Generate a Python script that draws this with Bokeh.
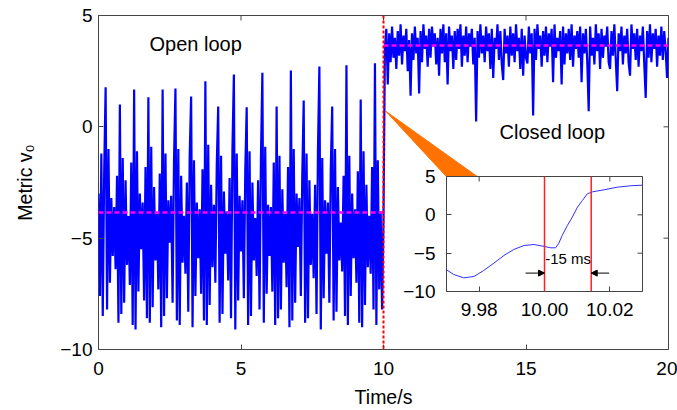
import numpy as np
from bokeh.plotting import figure
from bokeh.models import (ColumnDataSource, FixedTicker, Span, Arrow,
                          NormalHead, NumeralTickFormatter, Range1d)
from bokeh.layouts import column
from bokeh.embed import file_html
from bokeh.resources import INLINE
from bokeh.core.properties import value

# ---------------- data ----------------
sample_step = 0.05
switch_time = 10.0

open_loop = [
    -3.0, -7.6, -1.2, -8.5, -2.0, 1.78, -8.2, -1.0, -7.0, -3.2,
    -5.8, -3.6, -6.4, -2.2, -8.8, 1.00, -8.4, -1.4, -7.9, -2.4,
    -6.2, -4.0, -7.1, -1.6, -8.9, 1.68, -9.1, -1.1, -7.4, -3.0,
    -5.5, -3.4, -7.8, -1.8, -8.6, 1.33, -8.8, -0.9, -8.1, -2.7,
    -6.0, -3.9, -7.3, -2.1, -9.0, 1.68, -8.5, -1.2, -7.7, -3.3,
    -5.2, -3.1, -7.9, -1.5, 1.72, -8.7, -1.0, -8.9, -2.2, -6.1,
    -4.0, -6.6, -2.5, -8.3, -1.3, 1.36, -9.0, -1.5, -7.6, -3.4,
    -5.9, -3.7, -7.5, -1.9, -8.7, 2.05, -8.9, -0.8, -8.0, -2.6,
    -6.3, -3.5, -7.0, -1.7, 0.91, -8.8, -1.3, -8.4, -2.9, -5.7,
    -3.8, -6.9, -2.3, -8.6, -1.0, 2.35, -9.1, -1.2, -7.8, -3.1,
    -5.6, -3.3, -7.7, -2.0, 0.88, -8.9, -1.1, -8.5, -2.5, -6.0,
    -4.1, -6.7, -2.4, -8.2, -1.4, 2.43, -8.8, -0.9, -7.5, -3.5,
    -5.8, -3.6, -7.4, -1.6, -8.9, 0.91, -8.6, -1.3, -8.2, -2.8,
    -6.1, -3.9, -7.2, -1.8, -9.0, 2.53, -8.7, -1.0, -7.9, -3.0,
    -5.4, -3.2, -7.6, -2.2, 1.18, -8.8, -1.2, -8.6, -2.4, -6.2,
    -3.9, -6.8, -2.6, -8.4, -1.1, 2.71, -9.1, -1.4, -7.7, -3.3,
    -5.7, -3.4, -7.9, -1.9, 0.91, -8.7, -1.0, -8.3, -2.7, -6.0,
    -4.3, -6.5, -2.2, -8.5, 2.77, -8.9, -1.3, -7.6, -3.0, -5.9,
    -3.7, -7.0, -2.0, -8.8, 1.23, -9.0, -1.1, -8.0, -2.6, -6.3,
    -4.0, -6.6, -1.8, -8.2, 2.86, -8.9, -1.5, -7.3, -3.8, -8.2,
]

closed_loop = [
    -4.1, 3.6, 4.4, 1.9, 4.2, 2.9, 4.5, 3.1, 4.0, 2.6,
    4.3, 3.2, 4.6, 2.8, 4.1, 3.4, 4.4, 2.5, 3.9, 1.4,
    4.2, 3.0, 4.5, 3.3, 4.0, 1.5, 4.3, 2.9, 4.6, 3.5,
    4.1, 2.7, 4.4, 3.1, 4.5, 3.6, 4.2, 2.8, 4.0, 2.3,
    4.4, 3.3, 4.6, 2.9, 4.2, 1.9, 4.5, 3.4, 4.1, 2.6,
    4.3, 3.0, 4.4, 3.5, 4.6, 2.7, 4.1, 3.2, 4.5, 2.9,
    4.2, 3.6, 4.4, 2.8, 4.0, 0.24, 4.3, 3.1, 4.6, 3.3,
    4.1, 2.9, 4.5, 3.4, 4.2, 2.6, 4.4, 2.2, 4.0, 3.5,
    4.6, 3.0, 4.3, 2.8, 2.1, 4.4, 3.3, 4.1, 2.7, 4.5,
    3.2, 4.2, 2.9, 4.6, 3.4, 4.0, 2.6, 4.4, 2.3, 4.1,
    3.1, 2.85, 4.5, 3.3, 4.2, 0.51, 4.4, 3.0, 4.6, 3.5,
    4.1, 2.7, 4.3, 3.2, 4.5, 2.9, 4.2, 3.6, 4.4, 2.0,
    4.6, 3.1, 4.0, 3.4, 4.3, 1.9, 4.5, 2.8, 4.2, 3.3,
    4.4, 3.0, 4.6, 2.7, 4.1, 3.5, 4.3, 3.1, 4.5, 2.0,
    4.2, 3.3, 4.4, 2.9, 0.7, 4.5, 3.2, 4.0, 2.8, 4.6,
    3.4, 4.2, 2.6, 4.4, 3.1, 4.1, 3.6, 4.5, 2.9, 2.6,
    4.3, 3.2, 4.6, 3.0, 1.6, 4.2, 3.4, 4.5, 2.8, 4.1,
    3.3, 4.4, 2.9, 2.3, 4.6, 3.5, 4.2, 3.0, 4.4, 2.7,
    4.1, 3.4, 4.5, 2.8, 1.3, 4.3, 3.1, 4.6, 2.9, 4.2,
    3.5, 4.4, 2.7, 4.1, 3.2, 4.5, 3.0, 4.3, 3.4, 2.2,
    4.0,
]

mean_start = [0.0, 10.0]
mean_end = [10.0, 20.0]
mean_value = [-3.85, 3.65]

x_ticks = [0, 5, 10, 15, 20]
y_ticks = [-10, -5, 0, 5]

inset_time = [9.9700, 9.9722, 9.9753, 9.9784, 9.9814, 9.9845, 9.9876, 9.9906,
              9.9937, 9.9968, 10.0000, 10.0019, 10.0034, 10.0044, 10.0054,
              10.0070, 10.0085, 10.0101, 10.0116, 10.0131, 10.0147, 10.0183,
              10.0223, 10.0264, 10.0300]
inset_value = [-7.17, -7.78, -8.22, -8.04, -7.26, -6.30, -5.30, -4.52,
               -4.00, -3.87, -4.13, -4.30, -4.30, -3.70, -2.70,
               -1.39, -0.30, 1.00, 1.87, 2.74, 3.00, 3.27,
               3.61, 3.79, 3.87]
inset_x_ticks = [9.98, 10.00, 10.02]
inset_y_ticks = [-10, -5, 0, 5]
marker_times = [10.0, 10.0143]
arrow_from = [9.9942, 10.0198]
arrow_to = [10.0, 10.0143]
arrow_level = [-7.6, -7.6]
delay_label = ["-15  ms"]

FONT = "Liberation Sans"
FRAME = "#444444"
TICK_LEN = 5


def style_axis(ax):
    ax.axis_line_color = None
    ax.major_tick_in = TICK_LEN
    ax.major_tick_out = 0
    ax.major_tick_line_color = FRAME
    ax.minor_tick_line_color = None
    ax.major_label_text_font = FONT
    ax.major_label_text_color = "black"
    ax.major_label_text_font_size = "19px"
    ax.axis_label_text_font = FONT
    ax.axis_label_text_font_style = "normal"
    ax.axis_label_text_font_size = "19.5px"
    ax.axis_label_text_color = "black"


def mirror_ticks(fig, xt, yt):
    xr, yr = fig.x_range, fig.y_range
    fig.ray(x=xt, y=[yr.end] * len(xt), length=TICK_LEN, length_units="screen",
            angle=-np.pi / 2, line_color=FRAME, line_width=1)
    fig.ray(x=[xr.end] * len(yt), y=yt, length=TICK_LEN, length_units="screen",
            angle=np.pi, line_color=FRAME, line_width=1)


# ---------------- main figure ----------------
t_open = switch_time - sample_step * len(open_loop) + sample_step * np.arange(len(open_loop))
t_closed = switch_time + sample_step * np.arange(len(closed_loop))
sig = ColumnDataSource(dict(t=np.concatenate([t_open, t_closed]),
                            v=np.array(open_loop + closed_loop)))

p = figure(width=677, height=410, output_backend="svg", toolbar_location=None,
           x_range=Range1d(0, 20), y_range=Range1d(-10, 5),
           min_border_left=98, min_border_right=9, min_border_top=15, min_border_bottom=61)
p.grid.visible = False
p.outline_line_color = FRAME
p.outline_line_width = 1
p.background_fill_color = "white"
p.border_fill_color = "white"

p.xaxis.ticker = FixedTicker(ticks=x_ticks)
p.yaxis.ticker = FixedTicker(ticks=y_ticks)
style_axis(p.xaxis[0])
style_axis(p.yaxis[0])
p.xaxis.axis_label = "Time/s"
p.yaxis.axis_label = "Metric v\u2080"
p.xaxis.major_label_standoff = 12
p.yaxis.major_label_standoff = 6
p.xaxis.axis_label_standoff = 8
p.yaxis.axis_label_standoff = 21
mirror_ticks(p, x_ticks, y_ticks)

# orange callout wedge (behind everything)
p.patch(x=[10.08, 12.22, 13.31], y=[0.7, -2.25, -2.25], fill_color="#FF7200",
        line_color="#FF7200", line_width=1)

p.line("t", "v", source=sig, line_color="#0000FF", line_width=2.2)

p.segment(x0=mean_start, y0=mean_value, x1=mean_end, y1=mean_value,
          line_color="#FF00FF", line_width=2.5, line_dash="5 3")

p.add_layout(Span(location=switch_time, dimension="height", line_color="#FF0000",
                  line_width=2, line_dash="3 2"))

p.text(x=[1.79], y=[3.72], text=["Open loop"], text_font=value(FONT),
       text_font_size="20px", text_align="left", text_baseline="middle", text_color="black")
p.text(x=[14.07], y=[-0.23], text=["Closed loop"], text_font=value(FONT),
       text_font_size="20px", text_align="left", text_baseline="middle", text_color="black")

# ---------------- inset ----------------
# borders equal to the main figure's (a column aligns them); frame 196 x 115 px
ins = figure(width=303, height=165, output_backend="svg", toolbar_location=None,
             x_range=Range1d(9.97, 10.03), y_range=Range1d(-10, 5),
             min_border_left=98, min_border_right=9, min_border_top=10, min_border_bottom=40,
             styles={"position": "absolute", "left": "348px", "top": "166px"})
ins.grid.visible = False
ins.outline_line_color = FRAME
ins.background_fill_color = "white"
ins.border_fill_alpha = 0
ins.xaxis.ticker = FixedTicker(ticks=inset_x_ticks)
ins.yaxis.ticker = FixedTicker(ticks=inset_y_ticks)
ins.xaxis.formatter = NumeralTickFormatter(format="0.00")
style_axis(ins.xaxis[0])
style_axis(ins.yaxis[0])
ins.xaxis.major_label_standoff = 11
ins.yaxis.major_label_standoff = 11
mirror_ticks(ins, inset_x_ticks, inset_y_ticks)

ins.line(inset_time, inset_value, line_color="#3030FF", line_width=1)
for mt in marker_times:
    ins.add_layout(Span(location=mt, dimension="height", line_color="#FF2020", line_width=1.5))

arr_src = ColumnDataSource(dict(x0=arrow_from, x1=arrow_to, y=arrow_level))
ins.add_layout(Arrow(source=arr_src, x_start="x0", y_start="y", x_end="x1", y_end="y",
                     line_color="black", line_width=1,
                     end=NormalHead(size=6, fill_color="black", line_color="black")))
ins.text(x=[10.0002], y=[-5.7], text=delay_label, text_font=value(FONT),
         text_font_size="15px", text_align="left", text_baseline="middle", text_color="black")

layout = column(p, ins)
open("out.html", "w").write(file_html(layout, INLINE))
